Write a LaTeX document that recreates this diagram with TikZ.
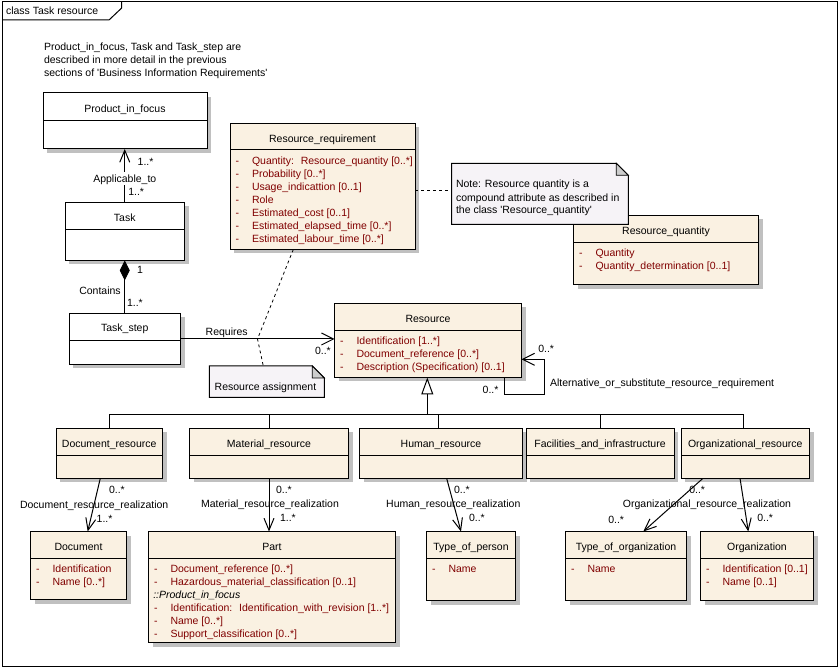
\documentclass[tikz,border=0pt]{standalone}
\usepackage{fontspec}
\setmainfont{Liberation Sans}[Ligatures=TeXOff]
\usetikzlibrary{arrows.meta,calc}
\definecolor{clsfill}{RGB}{250,241,226}
\definecolor{attrc}{RGB}{128,0,0}
\definecolor{shad}{RGB}{192,192,192}
\definecolor{notefill}{RGB}{246,243,247}
\definecolor{foldc}{RGB}{205,205,205}
\tikzset{
  every node/.style={font=\fontsize{10.5pt}{13pt}\selectfont},
  clsbox/.style={draw, line width=1pt, anchor=north west, inner sep=0pt, outer sep=0pt},
  lbl/.style={inner sep=0pt, outer sep=0pt, text height=7.5pt, text depth=0pt, anchor=west},
  lblc/.style={inner sep=0pt, outer sep=0pt, text height=7.5pt, text depth=0pt},
  assoc/.style={line width=1pt},
  barb/.style={-{Straight Barb[length=12pt,width=10pt]}},
  notelink/.style={line width=0.8pt, dash pattern=on 3pt off 3pt},
  noteshape/.style={minimum width=#1, anchor=north west, inner sep=0pt, outer sep=0pt},
}
\newcommand\umlcls[9]{%
  \fill[shad] (#2+4,#3+4) rectangle (#4+4,#5+4);
  \node[clsbox, fill=#7, minimum width={(#4)-(#2)}, minimum height={(#5)-(#3)}] (#1) at (#2,#3) {};
  \draw[line width=1pt] (#2,#6) -- (#4,#6);
  \node[lblc] (#1-t) at ({(#2+#4)/2},#8) {#9};
}
\newcommand\umlattr[4]{%
  \node[lbl, text=attrc] (#1-d) at (#2+5.5,#3) {-};
  \node[lbl, text=attrc] (#1) at (#2+22,#3) {#4};
}
\newcommand\umlnote[5]{% name x1 y1 x2 y2
  \node[minimum width={(#4)-(#2)}, minimum height={(#5)-(#3)}, anchor=north west, inner sep=0pt, outer sep=0pt] (#1) at (#2,#3) {};
  \filldraw[fill=notefill, line width=1pt] (#1.north west) -- ([xshift=-12pt]#1.north east) -- ([yshift=-12pt]#1.north east) -- (#1.south east) -- (#1.south west) -- cycle;
  \filldraw[fill=foldc, line width=0.8pt] ([xshift=-12pt]#1.north east) -- ([xshift=-12pt,yshift=-12pt]#1.north east) -- ([yshift=-12pt]#1.north east) -- cycle;
}
\begin{document}
\begin{tikzpicture}[x=1pt,y=-1pt]
\useasboundingbox (0,0) rectangle (839,668);
\fill[white] (0,0) rectangle (839,668);
% frame
\draw[line width=1pt] (2,2) rectangle (837,666);
\draw[line width=1pt] (2,20) -- (109,20) -- (121.7,8) -- (121.7,2);
\node[lbl] (frametitle) at (6,10.7) {class Task resource};

% description
\node[lbl] (desc1) at (44,47) {Product\_in\_focus, Task and Task\_step are};
\node[lbl] (desc2) at (44,60) {described in more detail in the previous};
\node[lbl] (desc3) at (44,72.7) {sections of 'Business Information Requirements'};

% classes
\umlcls{PIF}{43}{93}{207}{149}{120.5}{white}{108.5}{Product\_in\_focus}
\umlcls{Task}{65}{202.5}{184.5}{260.5}{229.5}{white}{217.5}{Task}
\umlcls{TaskStep}{69}{313.5}{180.5}{364.5}{340.5}{white}{328}{Task\_step}

\umlcls{RR}{230}{123.5}{415}{249.5}{150}{clsfill}{139}{Resource\_requirement}
\umlattr{rr1}{230}{161}{Quantity:~ Resource\_quantity [0..*]}
\umlattr{rr2}{230}{174}{Probability [0..*]}
\umlattr{rr3}{230}{187}{Usage\_indicattion [0..1]}
\umlattr{rr4}{230}{200}{Role}
\umlattr{rr5}{230}{213}{Estimated\_cost [0..1]}
\umlattr{rr6}{230}{226}{Estimated\_elapsed\_time [0..*]}
\umlattr{rr7}{230}{239}{Estimated\_labour\_time [0..*]}

\umlcls{RQ}{573.5}{215.5}{758.5}{285}{242.5}{clsfill}{231}{Resource\_quantity}
\umlattr{rq1}{573.5}{252.7}{Quantity}
\umlattr{rq2}{573.5}{265.7}{Quantity\_determination [0..1]}

\umlcls{Res}{334.5}{303.5}{521.5}{377.5}{330.5}{clsfill}{318.3}{Resource}
\umlattr{res1}{334.5}{341}{Identification [1..*]}
\umlattr{res2}{334.5}{354}{Document\_reference [0..*]}
\umlattr{res3}{334.5}{367}{Description (Specification) [0..1]}

\umlcls{DocRes}{56}{428.5}{162.5}{478.5}{455.5}{clsfill}{443.7}{Document\_resource}
\umlcls{MatRes}{189.5}{428.5}{348.5}{478.5}{455.5}{clsfill}{443.7}{Material\_resource}
\umlcls{HumRes}{359.5}{428.5}{522.5}{478.5}{455.5}{clsfill}{443.7}{Human\_resource}
\umlcls{Fac}{526}{428.5}{674}{478.5}{455.5}{clsfill}{443.7}{Facilities\_and\_infrastructure}
\umlcls{OrgRes}{681}{428.5}{809.5}{478.5}{455.5}{clsfill}{443.7}{Organizational\_resource}

\umlcls{Doc}{30.5}{531.5}{126.5}{599.5}{558.5}{clsfill}{546.7}{Document}
\umlattr{doc1}{30.5}{569}{Identification}
\umlattr{doc2}{30.5}{582}{Name [0..*]}

\umlcls{Part}{148.5}{531.5}{395.5}{642.5}{558.5}{clsfill}{546.7}{Part}
\umlattr{part1}{148.5}{569}{Document\_reference [0..*]}
\umlattr{part2}{148.5}{582}{Hazardous\_material\_classification [0..1]}
\node[lbl] (partpif) at (153.3,594.7) {\itshape ::Product\_in\_focus};
\umlattr{part3}{148.5}{608}{Identification:~ Identification\_with\_revision [1..*]}
\umlattr{part4}{148.5}{621}{Name [0..*]}
\umlattr{part5}{148.5}{634}{Support\_classification [0..*]}

\umlcls{TOP}{426.5}{531.5}{515.5}{600.5}{558.5}{clsfill}{546.7}{Type\_of\_person}
\umlattr{top1}{426.5}{569}{Name}
\umlcls{TOO}{565.5}{531.5}{686.5}{600.5}{558.5}{clsfill}{546.7}{Type\_of\_organization}
\umlattr{too1}{565.5}{569}{Name}
\umlcls{Org}{700.5}{531.5}{813.5}{600.5}{558.5}{clsfill}{546.7}{Organization}
\umlattr{org1}{700.5}{569}{Identification [0..1]}
\umlattr{org2}{700.5}{582}{Name [0..1]}

% notes
\umlnote{N1}{451.7}{163.3}{628.3}{224.3}
\node[lbl] (n1a) at (456,184) {Note: Resource quantity is a};
\node[lbl] (n1b) at (456,197.3) {compound attribute as described in};
\node[lbl] (n1c) at (456,210) {the class 'Resource\_quantity'};
\umlnote{RA}{209.3}{366}{324.3}{397.3}
\node[lbl] (ratext) at (214.7,386.7) {Resource assignment};

% Applicable_to
\draw[assoc, barb] (Task.north) -- (Task.north |- PIF.south);
\node[lbl] (m1) at (137.7,161.7) {1..*};
\node[lblc, fill=white, inner xsep=1pt, inner ysep=3pt] (applto) at (124.8,178.5) {Applicable\_to};
\node[lbl] (m2) at (128.3,191.7) {1..*};

% Contains
\draw[assoc, -{Diamond[length=20pt,width=10pt]}] (TaskStep.north) -- (Task.south);
\node[lbl] (m3) at (137,270) {1};
\node[lblc] (contains) at (100,290.3) {Contains};
\node[lbl] (m4) at (127,302.7) {1..*};

% Requires
\draw[assoc, -{Straight Barb[length=12pt,width=12pt]}] (TaskStep.east) -- (TaskStep.east -| Res.west);
\node[lblc] (requires) at (226.7,331.7) {Requires};
\node[lbl] (m5) at (315,350.7) {0..*};
\coordinate (rqmid) at ($(TaskStep.east)!0.5!(TaskStep.east -| Res.west)$);
\draw[notelink] ([xshift=-29.2pt]RR.south) -- (rqmid) -- ([xshift=-3.5pt]RA.north);
\draw[notelink] ([yshift=-3.5pt]RR.east) -- ([yshift=-3.5pt]RR.east -| N1.west);

% self association
\coordinate (sa1) at (544.3,394.3);
\draw[assoc, -{Straight Barb[length=12pt,width=12pt]}] ([xshift=-17.2pt]Res.south east) |- (sa1) |- ([yshift=-18.8pt]Res.east);
\node[lbl] (m6) at (538.3,349) {0..*};
\node[lbl] (m7) at (482.7,390) {0..*};
\node[lbl] (altsub) at (550,382.3) {Alternative\_or\_substitute\_resource\_requirement};

% generalization
\coordinate (busR) at (427.3,414.3);
\draw[assoc, -{Triangle[fill=white,length=17pt,width=12pt]}] (busR) -- (busR |- Res.south);
\draw[assoc] (DocRes.north) |- (busR);
\draw[assoc] (MatRes.north) |- (busR);
\draw[assoc] ([xshift=-2.7pt]HumRes.north) |- (busR);
\draw[assoc] (Fac.north) |- (busR);
\draw[assoc] ([xshift=-2pt]OrgRes.north) |- (busR);

% realizations
\draw[assoc, barb] ([xshift=-9pt]DocRes.south) -- ([xshift=9.2pt]Doc.north);
\node[lbl] (m8) at (109,490) {0..*};
\node[lblc] (drr) at (94.2,505) {Document\_resource\_realization};
\node[lbl] (m9) at (96.7,518.3) {1..*};

\draw[assoc, barb] (MatRes.south) -- (MatRes.south |- Part.north);
\node[lbl] (m10) at (276,490) {0..*};
\node[lblc] (mrr) at (270,504) {Material\_resource\_realization};
\node[lbl] (m11) at (280,518) {1..*};

\draw[assoc, barb] ([xshift=5.7pt]HumRes.south) -- ([xshift=-10pt]TOP.north);
\node[lbl] (m12) at (454,490) {0..*};
\node[lblc] (hrr) at (453.3,504) {Human\_resource\_realization};
\node[lbl] (m13) at (469,518) {0..*};

\draw[assoc, barb] ([xshift=-42.5pt]OrgRes.south) -- ([xshift=17.3pt]TOO.north);
\draw[assoc, barb] ([xshift=-5.2pt]OrgRes.south) -- ([xshift=-8.7pt]Org.north);
\node[lbl] (m14) at (689.3,490) {0..*};
\node[lbl] (m15) at (608.3,520) {0..*};
\node[lblc] (orr) at (707,504) {Organizational\_resource\_realization};
\node[lbl] (m16) at (757.3,518) {0..*};
\end{tikzpicture}
\end{document}
